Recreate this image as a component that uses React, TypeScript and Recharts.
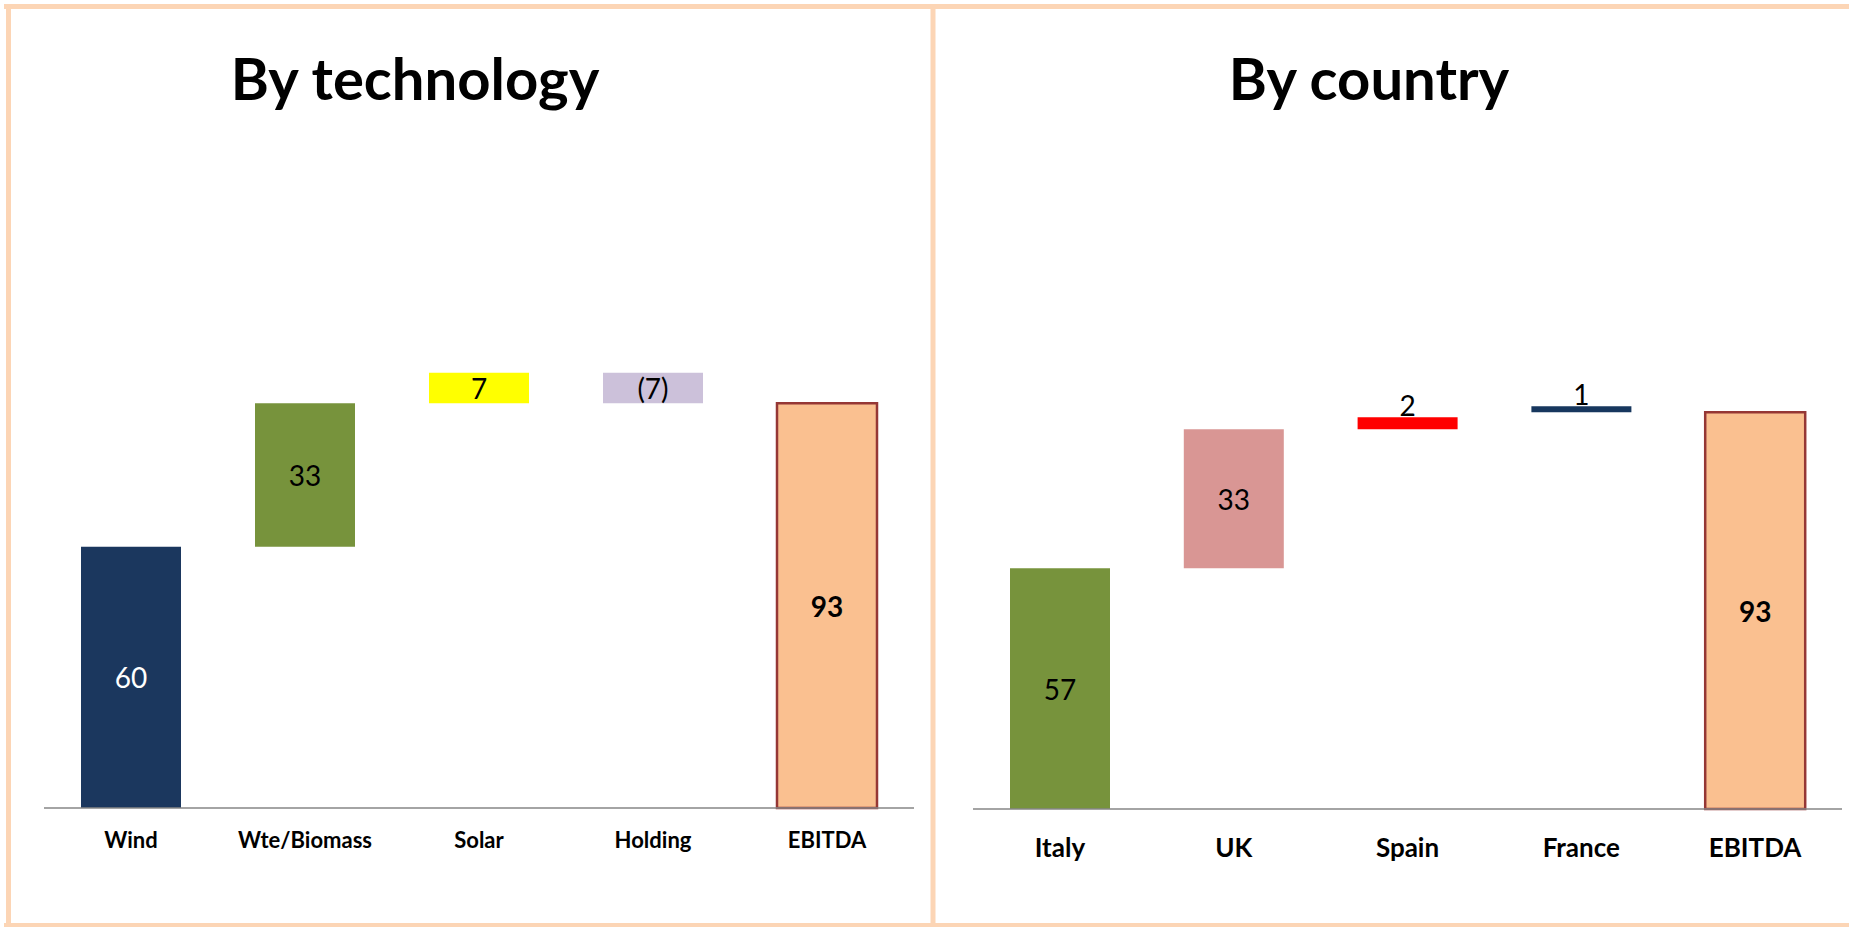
import React from 'react';
import { BarChart, Bar, XAxis, YAxis, Cell, LabelList } from 'recharts';

// By technology (running waterfall, last bar is the total)
const techCategories = ['Wind', 'Wte/Biomass', 'Solar', 'Holding', 'EBITDA'];
const techValues = [60, 33, 7, -7, 93];
const techColors = ['#1b375e', '#77933c', '#ffff00', '#ccc1da', '#fac090'];
const techLabelColors = ['#ffffff', '#000000', '#000000', '#000000', '#000000'];

// By country: bars as drawn (hidden base + visible height), labels as printed
const countryCategories = ['Italy', 'UK', 'Spain', 'France', 'EBITDA'];
const countryBase = [0, 56.4, 89.0, 93.0, 0];
const countryHeight = [56.4, 32.6, 2.8, 1.4, 93];
const countryLabels = [57, 33, 2, 1, 93];
const countryColors = ['#77933c', '#d99694', '#ff0000', '#17375e', '#fac090'];
const countryLabelColors = ['#000000', '#000000', '#000000', '#000000', '#000000'];

const FRAME = '#fcd5b5';
const TOTAL_STROKE = '#953735';
const FONT = 'Lato, "Open Sans", sans-serif';

type Row = { name: string; range: [number, number]; label: number; total: boolean };

function buildRunning(cats: string[], vals: number[]): Row[] {
  let run = 0;
  return cats.map((name, i) => {
    const v = vals[i];
    if (i === cats.length - 1) {
      return { name, range: [0, v] as [number, number], label: v, total: true };
    }
    const start = run;
    run += v;
    return {
      name,
      range: [Math.min(start, run), Math.max(start, run)] as [number, number],
      label: v,
      total: false,
    };
  });
}

function buildFromBase(cats: string[], base: number[], height: number[], labels: number[]): Row[] {
  return cats.map((name, i) => ({
    name,
    range: [base[i], base[i] + height[i]] as [number, number],
    label: labels[i],
    total: i === cats.length - 1,
  }));
}

const fmt = (v: number) => (v < 0 ? `(${Math.abs(v)})` : `${v}`);

function makeLabel(rows: Row[], colors: string[]) {
  return (props: any) => {
    const { x, y, width, height, index } = props;
    const row = rows[index];
    if (!row) return null;
    const h = Math.abs(height);
    const top = Math.min(y, y + height);
    const cx = x + width / 2;
    const common = {
      textAnchor: 'middle' as const,
      fontFamily: FONT,
      fontSize: 28,
      fontWeight: row.total ? 700 : 400,
      fill: colors[index],
    };
    // thin bars: the number sits on top of the bar
    if (h < 20) {
      return (
        <text x={cx} y={top - 1} {...common}>
          {fmt(row.label)}
        </text>
      );
    }
    return (
      <text x={cx} y={top + h / 2} dominantBaseline="central" {...common}>
        {fmt(row.label)}
      </text>
    );
  };
}

function makeTick(fontSize: number, dy: number) {
  return (props: any) => {
    const { x, y, payload } = props;
    return (
      <text
        x={x}
        y={y + dy}
        textAnchor="middle"
        dominantBaseline="central"
        fontFamily={FONT}
        fontWeight={700}
        fontSize={fontSize}
        fill="#000"
      >
        {payload.value}
      </text>
    );
  };
}

interface WaterfallProps {
  rows: Row[];
  colors: string[];
  labelColors: string[];
  width: number;
  height: number;
  margin: { top: number; right: number; bottom: number; left: number };
  tickSize: number;
  tickDy: number;
}

function Waterfall({ rows, colors, labelColors, width, height, margin, tickSize, tickDy }: WaterfallProps) {
  return (
    <BarChart width={width} height={height} data={rows} margin={margin}>
      <XAxis
        dataKey="name"
        height={60}
        axisLine={{ stroke: '#868686', strokeWidth: 1.5 }}
        tickLine={false}
        interval={0}
        tick={makeTick(tickSize, tickDy)}
      />
      <YAxis hide domain={[0, 150]} />
      <Bar dataKey="range" barSize={100} isAnimationActive={false}>
        {rows.map((r, i) => (
          <Cell
            key={r.name}
            fill={colors[i]}
            stroke={r.total ? TOTAL_STROKE : 'none'}
            strokeWidth={r.total ? 2.5 : 0}
          />
        ))}
        <LabelList dataKey="label" content={makeLabel(rows, labelColors)} />
      </Bar>
    </BarChart>
  );
}

export default function App() {
  const techRows = buildRunning(techCategories, techValues);
  const countryRows = buildFromBase(countryCategories, countryBase, countryHeight, countryLabels);

  return (
    <div style={{ position: 'absolute', left: 0, top: 0, width: 1849, height: 927, background: '#fff', overflow: 'hidden' }}>
      <svg width={1849} height={927} style={{ position: 'absolute', left: 0, top: 0 }}>
        <line x1={4} y1={6.5} x2={1849} y2={6.5} stroke={FRAME} strokeWidth={5} />
        <line x1={8.5} y1={4} x2={8.5} y2={927} stroke={FRAME} strokeWidth={5} />
        <line x1={933} y1={4} x2={933} y2={927} stroke={FRAME} strokeWidth={5} />
        <line x1={4} y1={925} x2={1849} y2={925} stroke={FRAME} strokeWidth={4} />
        <text x={415} y={100} textAnchor="middle" fontFamily={FONT} fontWeight={700} fontSize={58} fill="#000">
          By technology
        </text>
        <text x={1369} y={100} textAnchor="middle" fontFamily={FONT} fontWeight={700} fontSize={58} fill="#000">
          By country
        </text>
      </svg>
      <div style={{ position: 'absolute', left: 0, top: 0 }}>
        <Waterfall
          rows={techRows}
          colors={techColors}
          labelColors={techLabelColors}
          width={930}
          height={927}
          margin={{ top: 155, right: 16, bottom: 59, left: 44 }}
          tickSize={22}
          tickDy={23}
        />
      </div>
      <div style={{ position: 'absolute', left: 935, top: 0 }}>
        <Waterfall
          rows={countryRows}
          colors={countryColors}
          labelColors={countryLabelColors}
          width={914}
          height={927}
          margin={{ top: 169, right: 7, bottom: 58, left: 38 }}
          tickSize={26}
          tickDy={30}
        />
      </div>
    </div>
  );
}
